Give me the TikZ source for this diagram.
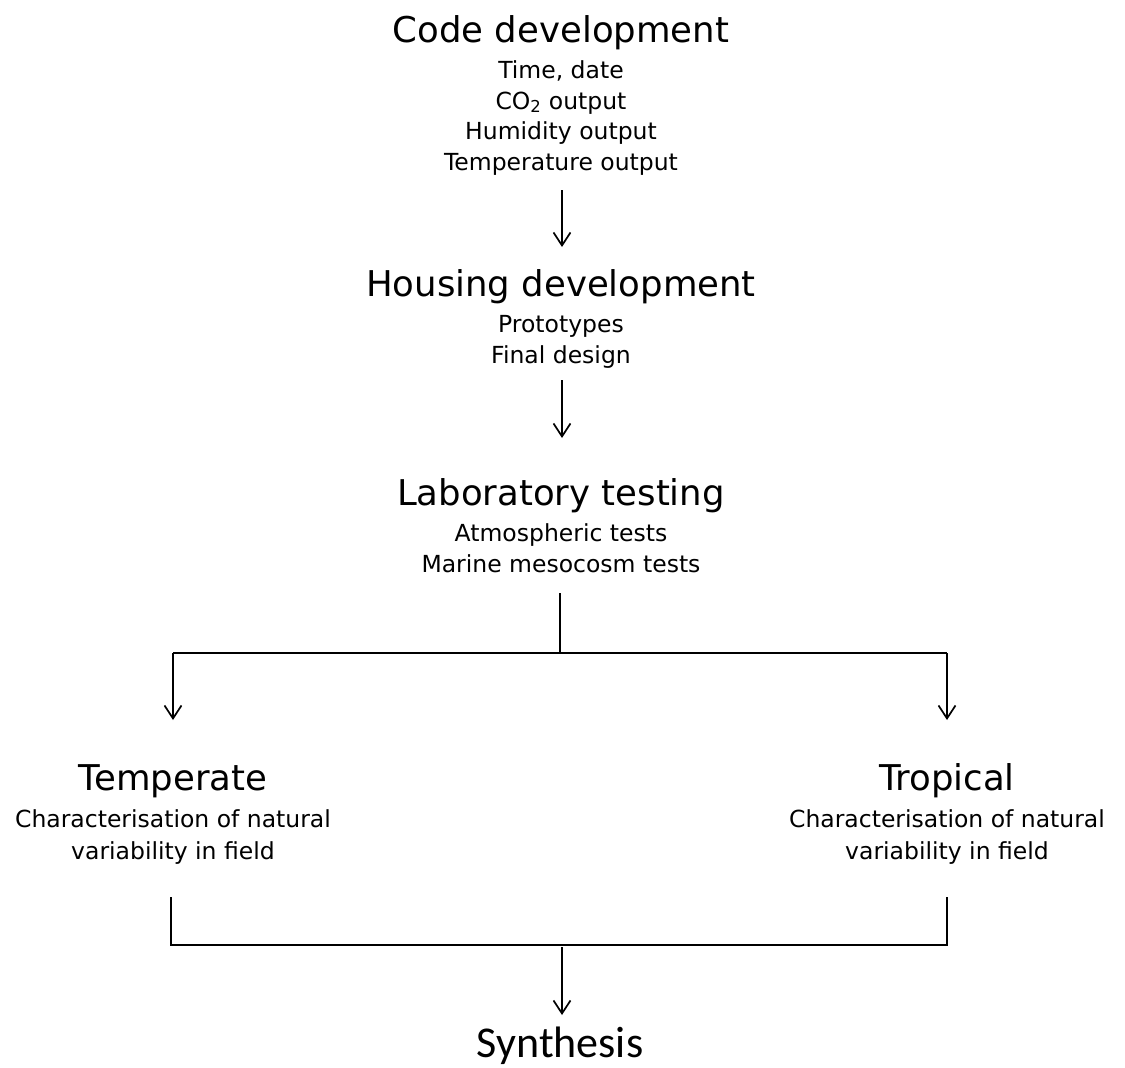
\documentclass[tikz,border=0pt]{standalone}
\usepackage{fontspec}
\setmainfont{DejaVu Sans}
\newfontfamily\synfont{Carlito}
\usetikzlibrary{arrows.meta}
\begin{document}
\begin{tikzpicture}[x=1pt,y=-1pt,line width=1.7pt,
  title/.style={font=\fontsize{35.5}{40}\selectfont,inner sep=0pt,anchor=base},
  detail/.style={font=\fontsize{23.5}{28}\selectfont,inner sep=0pt,anchor=base},
  arr/.style={-{Straight Barb[length=13pt,width=17pt,line width=1.7pt]}}]
\useasboundingbox (0,0) rectangle (1125,1068);
% Code development
\node[title] (t1) at (561,42) {Code development};
\node[detail] (d11) at (561,78) {Time, date};
\node[detail] (d12) at (561,109) {CO\textsubscript{2} output};
\node[detail] (d13) at (561,139) {Humidity output};
\node[detail] (d14) at (561,170) {Temperature output};
% Housing
\node[title] (t2) at (561,296) {Housing development};
\node[detail] (d21) at (561,332) {Prototypes};
\node[detail] (d22) at (561,363) {Final design};
% Laboratory
\node[title] (t3) at (561,505) {Laboratory testing};
\node[detail] (d31) at (561,541) {Atmospheric tests};
\node[detail] (d32) at (561,572) {Marine mesocosm tests};
% Temperate
\node[title] (t4) at (173,790) {Temperate};
\node[detail] (d41) at (173,827) {Characterisation of natural};
\node[detail] (d42) at (173,859) {variability in field};
% Tropical
\node[title] (t5) at (947,790) {Tropical};
\node[detail] (d51) at (947,827) {Characterisation of natural};
\node[detail] (d52) at (947,859) {variability in field};
% Synthesis
\node[title,font=\synfont\fontsize{44}{50}\selectfont] (t6) at (560,1057) {Synthesis};
% coordinates
\coordinate (a1s) at (562,190); \coordinate (a1e) at (562,247);
\coordinate (a2s) at (562,380); \coordinate (a2e) at (562,438);
\coordinate (bs) at (560,593); \coordinate (bm) at (560,653);
\coordinate (bl) at (173,653); \coordinate (br) at (947,653);
\coordinate (ble) at (173,720); \coordinate (bre) at (947,720);
\coordinate (jl) at (171,897); \coordinate (jr) at (947,897);
\coordinate (jla) at (171,945); \coordinate (jra) at (947,945);
\coordinate (js) at (562,947); \coordinate (je) at (562,1015);
% connectors
\draw[arr] (a1s) -- (a1e);
\draw[arr] (a2s) -- (a2e);
\draw (bs) -- (bm);
\draw (bl) -- (br);
\draw[arr] (bl) -- (ble);
\draw[arr] (br) -- (bre);
\draw (jl) -- (jla) -- (jra) -- (jr);
\draw[arr] (js) -- (je);
\end{tikzpicture}
\end{document}
